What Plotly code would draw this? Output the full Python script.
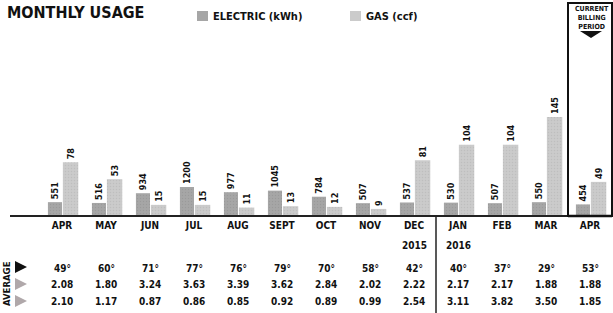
import plotly.graph_objects as go

months = ["APR", "MAY", "JUN", "JUL", "AUG", "SEPT", "OCT", "NOV", "DEC", "JAN", "FEB", "MAR", "APR"]
years = ["", "", "", "", "", "", "", "", "2015", "2016", "", "", ""]
electric_kwh = [551, 516, 934, 1200, 977, 1045, 784, 507, 537, 530, 507, 550, 454]
gas_ccf = [78, 53, 15, 15, 11, 13, 12, 9, 81, 104, 104, 145, 49]
avg_temp = ["49°", "60°", "71°", "77°", "76°", "79°", "70°", "58°", "42°", "40°", "37°", "29°", "53°"]
avg_row2 = ["2.08", "1.80", "3.24", "3.63", "3.39", "3.62", "2.84", "2.02", "2.22", "2.17", "2.17", "1.88", "1.88"]
avg_row3 = ["2.10", "1.17", "0.87", "0.86", "0.85", "0.92", "0.89", "0.99", "2.54", "3.11", "3.82", "3.50", "1.85"]

FONT = "DejaVu Sans Condensed, Liberation Sans Narrow, Arial Narrow, sans-serif"
W, H = 613, 313
xs = list(range(len(months)))
E_COL, G_COL = "#a6a6a6", "#cbcbcb"

def py(pix):
    return (H - pix) / H

def f(size, color="#111", weight="bold"):
    return dict(family=FONT, size=size, color=color, weight=weight)

fig = go.Figure()
fig.add_trace(go.Bar(
    x=xs, y=electric_kwh, name="ELECTRIC (kWh)", yaxis="y",
    marker=dict(color=E_COL, line=dict(width=0),
                pattern=dict(shape=".", fgcolor="#8e8e8e", size=3, solidity=0.2)),
    text=[str(v) for v in electric_kwh], textposition="outside", textangle=-90,
    constraintext="none", textfont=f(9), cliponaxis=False,
    width=0.32, offset=-0.32,
))
fig.add_trace(go.Bar(
    x=xs, y=gas_ccf, name="GAS (ccf)", yaxis="y2",
    marker=dict(color=G_COL, line=dict(width=0),
                pattern=dict(shape=".", fgcolor="#b2b2b2", size=3, solidity=0.2)),
    text=[str(v) for v in gas_ccf], textposition="outside", textangle=-90,
    constraintext="none", textfont=f(9), cliponaxis=False,
    width=0.35, offset=0.02,
))

x0_px, x1_px = 10, W
r0 = -(62 - x0_px) / 44.0
r1 = r0 + (x1_px - x0_px) / 44.0
plot_top, base = 20, 215
ph = base - plot_top
fig.update_layout(
    width=W, height=H, margin=dict(l=0, r=0, t=0, b=0),
    paper_bgcolor="white", plot_bgcolor="white",
    font=dict(family=FONT, color="#111"),
    showlegend=False,
    xaxis=dict(domain=[x0_px / W, 1], range=[r0, r1], tickvals=xs, ticktext=months,
               showgrid=False, zeroline=False, showline=True, linecolor="#222", linewidth=1.5,
               ticks="", tickfont=f(10)),
    yaxis=dict(domain=[py(base), py(plot_top)], range=[0, 1200 * ph / 28.0],
               visible=False, showgrid=False),
    yaxis2=dict(domain=[py(base), py(plot_top)], range=[0, 145 * ph / 98.0],
                overlaying="y", visible=False, showgrid=False),
)

def A(text, x, y, xref="paper", font=None, **kw):
    d = dict(text=text, x=x, y=y, xref=xref, yref="paper", showarrow=False,
             xanchor=kw.pop("xanchor", "center"), yanchor="middle", font=font or f(10))
    d.update(kw)
    return d

ann = []
ann.append(A("MONTHLY USAGE", 5 / W, py(13), font=f(16, weight=900), xanchor="left"))
ann.append(A("ELECTRIC (kWh)", 211 / W, py(16), font=f(11), xanchor="left"))
ann.append(A("GAS (ccf)", 364 / W, py(16), font=f(11), xanchor="left"))
for i in xs:
    if years[i]:
        ann.append(A(years[i], i, py(245), xref="x", font=f(10)))
    for row, yy in ((avg_temp, 268), (avg_row2, 284), (avg_row3, 301)):
        ann.append(A(row[i], i, py(yy), xref="x", font=f(10)))
ann.append(A("AVERAGE", 6 / W, py(284), font=f(9.5), textangle=-90))
ann.append(A("CURRENT<br>BILLING<br>PERIOD", 12.05, py(18), xref="x", font=f(7)))
fig.update_layout(annotations=ann)

shapes = []
shapes.append(dict(type="rect", xref="paper", yref="paper", x0=197 / W, x1=208 / W,
                   y0=py(21), y1=py(11), fillcolor=E_COL, line=dict(width=0)))
shapes.append(dict(type="rect", xref="paper", yref="paper", x0=350 / W, x1=361 / W,
                   y0=py(21), y1=py(11), fillcolor=G_COL, line=dict(width=0)))

def tri_right(x, ymid, color):
    return dict(type="path", xref="paper", yref="paper",
                path=f"M {x/W},{py(ymid-6)} L {(x+12)/W},{py(ymid)} L {x/W},{py(ymid+6)} Z",
                fillcolor=color, line=dict(width=0))
shapes.append(tri_right(15, 267, "#111"))
shapes.append(tri_right(15, 284, "#b0a8aa"))
shapes.append(tri_right(15, 301, "#b0a8aa"))
shapes.append(dict(type="line", xref="x", yref="paper", x0=8.5, x1=8.5, y0=0, y1=py(216),
                   line=dict(color="#222", width=1.5)))
shapes.append(dict(type="rect", xref="x", yref="paper", x0=11.5, x1=12.5, y0=py(216), y1=py(3),
                   line=dict(color="#111", width=2)))
shapes.append(dict(type="line", xref="x", yref="paper", x0=11.5, x1=12.5, y0=py(216), y1=py(216),
                   line=dict(color="#111", width=2.5)))
shapes.append(dict(type="path", xref="paper", yref="paper",
                   path=f"M {580/W},{py(31)} L {602/W},{py(31)} L {591/W},{py(38)} Z",
                   fillcolor="#111", line=dict(width=0)))
fig.update_layout(shapes=shapes)

fig.write_html("out.html", config={"displayModeBar": False},
               post_script="document.body.style.margin='0';")
